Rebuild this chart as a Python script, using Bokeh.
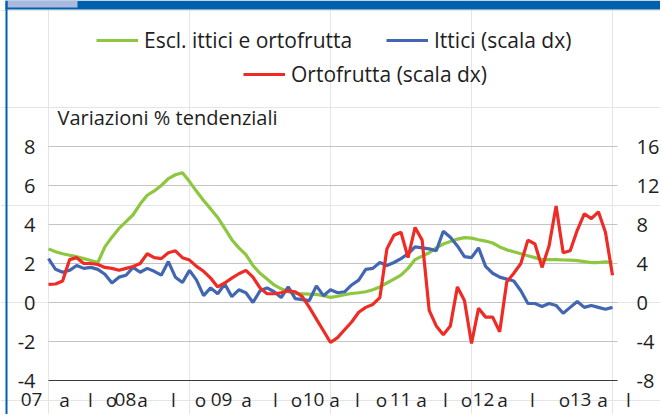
from bokeh.plotting import figure
from bokeh.models import Range1d, Legend, LegendItem, Label, BoxAnnotation
from bokeh.core.properties import value
from bokeh.embed import file_html
from bokeh.resources import INLINE

# monthly series, Jan 2007 onwards
esclusi = [2.75, 2.6, 2.5, 2.42, 2.35, 2.25, 2.15, 2.05, 2.85, 3.35,
           3.8, 4.15, 4.5, 5.05, 5.5, 5.72, 6.0, 6.35, 6.55, 6.65,
           6.2, 5.7, 5.23, 4.8, 4.36, 3.8, 3.22, 2.8, 2.45, 1.9,
           1.5, 1.2, 0.9, 0.7, 0.55, 0.47, 0.45, 0.43, 0.42, 0.35,
           0.26, 0.32, 0.4, 0.46, 0.5, 0.55, 0.65, 0.8, 1.0, 1.2,
           1.4, 1.75, 2.2, 2.38, 2.55, 2.8, 3.0, 3.13, 3.25, 3.33,
           3.3, 3.22, 3.15, 3.05, 2.85, 2.7, 2.6, 2.5, 2.4, 2.3,
           2.2, 2.2, 2.2, 2.18, 2.17, 2.15, 2.1, 2.05, 2.05, 2.08, 2.05]
ittici = [4.5, 3.4, 3.1, 3.3, 3.8, 3.5, 3.6, 3.4, 2.9, 2.0,
          2.6, 2.8, 3.6, 3.1, 3.5, 3.2, 2.8, 4.2, 2.6, 2.05,
          3.3, 2.3, 0.7, 1.5, 0.9, 1.9, 0.6, 1.3, 1.0, 0.0,
          1.2, 1.5, 1.1, 0.5, 1.6, 0.4, 0.3, 0.2, 1.7, 0.7,
          1.3, 1.0, 1.1, 1.8, 2.3, 3.4, 3.5, 4.1, 3.8, 4.1,
          4.5, 5.0, 5.7, 5.6, 5.5, 5.3, 7.3, 6.7, 5.8, 4.7,
          4.6, 5.6, 3.7, 3.0, 2.6, 2.4, 2.2, 1.2, -0.1, -0.1,
          -0.4, -0.1, -0.3, -1.1, -0.5, 0.1, -0.5, -0.3, -0.5, -0.7, -0.5]
ortofrutta = [1.85, 1.9, 2.2, 4.4, 4.6, 4.0, 4.0, 3.9, 3.6, 3.5,
              3.3, 3.5, 3.7, 4.0, 5.0, 4.6, 4.5, 5.1, 5.3, 4.6,
              4.35, 3.7, 3.2, 2.5, 1.6, 2.0, 2.5, 2.95, 3.3, 2.6,
              1.5, 0.9, 0.9, 1.0, 1.2, 1.1, 0.6, -0.5, -1.7, -2.9,
              -4.1, -3.6, -2.8, -2.0, -1.0, -0.5, -0.2, 0.5, 5.5, 6.9,
              7.2, 4.6, 7.7, 6.4, -0.8, -2.4, -3.3, -2.4, 1.6, 0.2,
              -4.2, -0.6, -1.5, -1.5, -3.0, 2.1, 3.0, 4.0, 6.4, 6.0,
              3.6, 5.8, 9.9, 5.1, 5.3, 7.4, 9.1, 8.6, 9.3, 7.2, 2.8]
months = list(range(len(esclusi)))

# x tick labels (year, aprile, luglio, ottobre) and where they sit, in months
x_labels = ["07", "a", "l", "o", "08", "a", "l", "o", "09", "a", "l", "o",
            "10", "a", "l", "o", "11", "a", "l", "o", "12", "a", "l", "o",
            "13", "a", "l"]
x_label_pos = [-2.4, 2.27, 5.96, 8.94, 10.92, 13.33, 17.73, 21.56, 24.54, 28.09,
               32.2, 35.18, 37.59, 40.57, 43.83, 47.23, 49.93, 52.91, 56.31, 59.29,
               61.7, 64.4, 68.65, 73.19, 75.46, 78.58, 82.27]
left_ticks = [-4, -2, 0, 2, 4, 6, 8]
right_ticks = [-8, -4, 0, 4, 8, 12, 16]

GREEN = "#8DC63F"
BLUE = "#4266B2"
RED = "#EE2B24"
TXT = "#1E1E1E"
FONT = "Open Sans"
BAND = "#0060AE"

# geometry of the canvas (pixels) -> data ranges
W, H = 660, 414
PX0, PXM = 48, 7.05      # x pixel of first month, pixels per month
PY0, PYU = 302, 19.5     # y pixel of zero, pixels per left-axis unit
RATIO = 2                # right axis = 2 x left axis
GRID_END = len(months) - 1 + 0.71

p = figure(width=W, height=H, output_backend="svg", toolbar_location=None,
           x_range=Range1d(-PX0 / PXM, (W - PX0) / PXM),
           y_range=Range1d((PY0 - H) / PYU, PY0 / PYU),
           x_axis_location=None, y_axis_location=None,
           min_border=0, background_fill_color="white", border_fill_color="white")
p.outline_line_color = None
p.extra_y_ranges = {"dx": Range1d(RATIO * (PY0 - H) / PYU, RATIO * PY0 / PYU)}

# horizontal grid and base line
p.segment(x0=[0] * (len(left_ticks) - 1), y0=left_ticks[1:],
          x1=[GRID_END] * (len(left_ticks) - 1), y1=left_ticks[1:],
          line_color="#C4C4C4", line_width=1)
p.segment(x0=[0], y0=left_ticks[:1], x1=[GRID_END], y1=left_ticks[:1],
          line_color="#3A3A3A", line_width=1.2)

# tick labels
p.text(x=[0] * len(left_ticks), y=left_ticks, text=[str(t) for t in left_ticks],
       x_offset=-13, text_align="right", text_baseline="middle",
       text_font=value(FONT), text_font_size="20px", text_color=TXT)
p.text(x=[GRID_END] * len(right_ticks), y=right_ticks, text=[str(t) for t in right_ticks],
       y_range_name="dx", x_offset=19, text_align="left", text_baseline="middle",
       text_font=value(FONT), text_font_size="20px", text_color=TXT)
p.text(x=x_label_pos, y=[left_ticks[0]] * len(x_labels), text=x_labels,
       y_offset=19, text_align="center", text_baseline="middle",
       text_font=value(FONT), text_font_size="19px", text_color=TXT)

r_g = p.line(months, esclusi, line_color=GREEN, line_width=3.2)
r_b = p.line(months, ittici, line_color=BLUE, line_width=3.2, y_range_name="dx")
r_r = p.line(months, ortofrutta, line_color=RED, line_width=3.2, y_range_name="dx")

def add_legend(label, rend, x, y):
    leg = Legend(items=[LegendItem(label=label, renderers=[rend])], location=(x, y),
                 orientation="horizontal", padding=0, margin=0, spacing=0,
                 glyph_width=42, glyph_height=20, label_standoff=6,
                 label_text_font=FONT, label_text_font_size="21px",
                 label_text_color=TXT, label_text_baseline="middle",
                 border_line_color=None, background_fill_alpha=0)
    p.add_layout(leg, "center")

add_legend("Escl. ittici e ortofrutta", r_g, 96, H - 54)
add_legend("Ittici (scala dx)", r_b, 386, H - 54)
add_legend("Ortofrutta (scala dx)", r_r, 243, H - 88)

p.add_layout(Label(x=57, y=H - 117, x_units="screen", y_units="screen",
                   text="Variazioni % tendenziali", text_baseline="middle",
                   text_font=FONT, text_font_size="20px", text_color=TXT))

# frame decoration: blue band with a light tab on top, blue rule on the left
def screen_box(left, right, top, bottom, color):
    p.add_layout(BoxAnnotation(left=left, right=right, top=H - top, bottom=H - bottom,
                               left_units="screen", right_units="screen",
                               top_units="screen", bottom_units="screen",
                               fill_color=color, fill_alpha=1, line_color=None))

screen_box(5, W, 0, 9, BAND)
screen_box(7, 77, 0, 7, "#AABADF")
screen_box(5, 7, 0, H, BAND)

open("out.html", "w").write(file_html(p, INLINE))
